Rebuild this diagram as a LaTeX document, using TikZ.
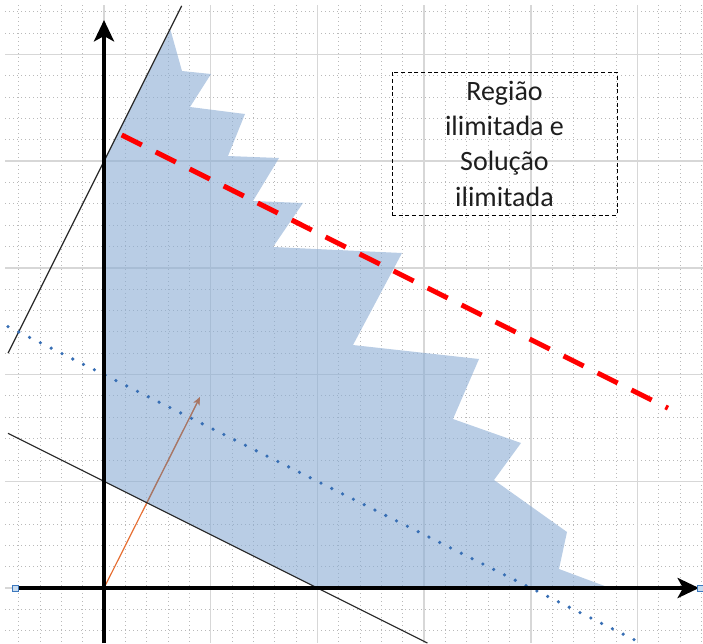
\documentclass[tikz,border=0pt]{standalone}
\usepackage{fontspec}
\setmainfont{Carlito}
\usetikzlibrary{arrows.meta}
\definecolor{minorgrid}{RGB}{185,185,185}
\definecolor{majorgrid}{RGB}{215,215,215}
\definecolor{regionblue}{RGB}{138,172,212}
\definecolor{dotblue}{RGB}{55,110,180}
\definecolor{vecorange}{RGB}{230,110,50}
\definecolor{vecbrown}{RGB}{168,118,100}
\definecolor{handlefill}{RGB}{200,220,240}
\definecolor{handledraw}{RGB}{60,120,190}
\definecolor{textgray}{RGB}{30,30,30}
\newcommand{\regionpath}{(104,481.3) -- (104,161.2) -- (170.5,30) -- (182,71) -- (211,74) -- (190,107)
  -- (245,114) -- (228,156) -- (279,158) -- (253,201) -- (303,203) -- (273,247)
  -- (402,253) -- (353,345) -- (479,359) -- (453,419) -- (521,443) -- (494,480)
  -- (567,532) -- (559,569) -- (610,588) -- (317.4,588) -- cycle}
\tikzset{
  minorline/.style={minorgrid, line width=0.7pt, dash pattern=on 0.8pt off 2.2pt},
  majorline/.style={majorgrid, line width=1.1pt},
  axisline/.style={black, line width=3pt, -{Stealth[length=16pt,width=15pt,inset=4pt]}},
  constraint/.style={black!85, line width=0.9pt},
  objline/.style={dotblue, line width=2.7pt, line cap=round, dash pattern=on 0pt off 9.05pt},
  optline/.style={red, line width=3.75pt, dash pattern=on 16.875pt off 11.625pt},
  vecline/.style={vecorange, line width=0.9pt, -{Stealth[length=6pt,width=5pt]}},
  handle/.style={draw=handledraw, fill=handlefill, line width=0.7pt, minimum size=4.5pt, inner sep=0pt, rectangle},
  labelbox/.style={draw=black, dashed, dash pattern=on 3pt off 2pt, line width=0.75pt,
    minimum width=168.75pt, minimum height=107.25pt, align=center, text=textgray,
    font=\fontsize{21pt}{26.5pt}\selectfont, inner sep=0pt}
}
\begin{document}
\begin{tikzpicture}[x=0.75pt,y=-0.75pt]
\useasboundingbox (0,0) rectangle (703,643);
% grid
\begin{scope}
  \clip (5,5) rectangle (703,643);
  \foreach \k in {-4,...,28} {
    \draw[minorline] ({104+\k*21.34},5) -- ({104+\k*21.34},643);
  }
  \foreach \k in {-2,...,27} {
    \draw[minorline] (5,{588-\k*21.34}) -- (703,{588-\k*21.34});
  }
  \foreach \m in {0,...,5} {
    \draw[majorline] ({104+\m*106.7},5) -- ({104+\m*106.7},643);
    \draw[majorline] (5,{588-\m*106.7}) -- (703,{588-\m*106.7});
  }
\end{scope}
% named coordinates
\coordinate (O) at (104,588);
\coordinate (V) at (200,397);
\coordinate (L1a) at (8,353.2);
\coordinate (L1b) at (181.7,5.8);
\coordinate (L2a) at (8,433.3);
\coordinate (L2b) at (427.4,643);
\coordinate (Za) at (8,326.6);
\coordinate (Zb) at (640,642.6);
\coordinate (Ra) at (121.7,135);
\coordinate (Rb) at (668,408.2);
\coordinate (Ybot) at (104,643);
\coordinate (Ytop) at (104,20);
\coordinate (Xleft) at (15,588);
\coordinate (Xright) at (699,588);
% gradient vector
\draw[vecline] (O) -- (V);
% feasible region
\fill[regionblue, opacity=0.6] \regionpath;
\begin{scope}
  \clip \regionpath;
  \draw[vecline, vecbrown] (O) -- (V);
\end{scope}
% constraints
\draw[constraint] (L1a) -- (L1b);
\draw[constraint] (L2a) -- (L2b);
% objective level line
\draw[objline] (Za) -- (Zb);
% unbounded objective line
\draw[optline] (Ra) -- (Rb);
% axes
\draw[axisline] (Ybot) -- (Ytop);
\draw[axisline] (Xleft) -- (Xright);
\node[handle] (h1) at (Xleft) {};
\node[handle] (h2) at (700,588) {};
% label
\node[labelbox] (box) at (504.5,143.5) {Região\\ilimitada e\\Solução\\ilimitada};
\end{tikzpicture}
\end{document}
